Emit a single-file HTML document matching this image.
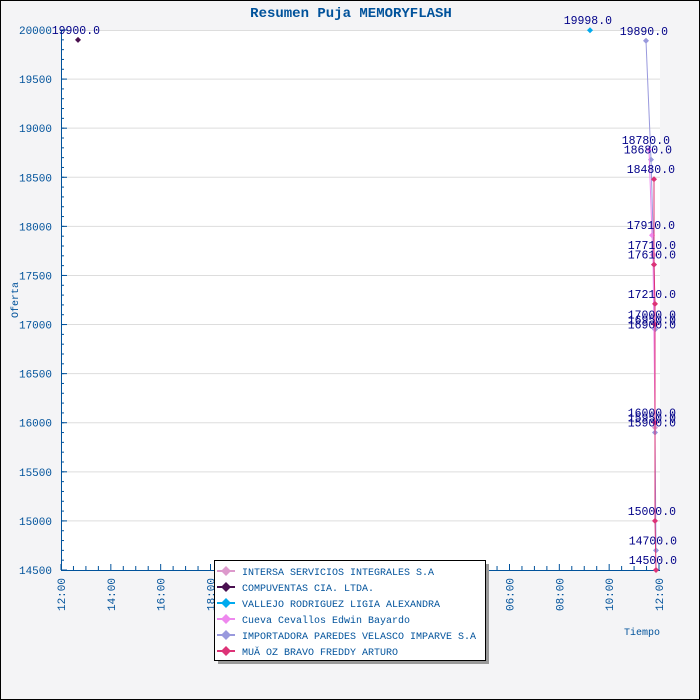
<!DOCTYPE html>
<html><head><meta charset="utf-8"><style>
html,body{margin:0;padding:0;background:#fff}
svg{display:block}
text{font-family:"Liberation Mono","DejaVu Sans Mono",monospace}
</style></head><body>
<svg id="s" width="700" height="700" xmlns="http://www.w3.org/2000/svg">
<rect x="0.5" y="0.5" width="699" height="699" fill="#f4f4f6" stroke="#000"/>
<rect x="61" y="30" width="599" height="540" fill="#fff"/>
<text x="351" y="17" text-anchor="middle" font-size="14" font-weight="bold" fill="#00529b">Resumen Puja MEMORYFLASH</text>
<g id="g"></g>
</svg>
<script>
var g=document.getElementById('g'),h='';
function Y(v){return 30+(20000-v)*540/5500;}
for(var v=14500;v<=20000;v+=500){var y=Y(v);
 if(v>14500&&v<20000)h+='<line x1="61" x2="660" y1="'+y+'" y2="'+y+'" stroke="#ddd"/>';
 if(v==20000)h+='<line x1="61" x2="660" y1="30.5" y2="30.5" stroke="#ddd"/>';
 h+='<line x1="61" x2="67" y1="'+y+'" y2="'+y+'" stroke="#00529b"/>';
 h+='<text x="52" y="'+(y+4)+'" text-anchor="end" font-size="11" fill="#00529b">'+v+'</text>';}
for(var v=14500;v<20000;v+=100){var y=Y(v);h+='<line x1="61" x2="64" y1="'+y+'" y2="'+y+'" stroke="#00529b"/>';}
h+='<line x1="61.5" x2="61.5" y1="30" y2="570" stroke="#00529b"/>';
h+='<line x1="61" x2="660" y1="570.5" y2="570.5" stroke="#00529b"/>';
var lab=['12:00','14:00','16:00','18:00','20:00','22:00','00:00','02:00','04:00','06:00','08:00','10:00','12:00'];
for(var i=0;i<=48;i++){var x=61+i*598/48;h+='<line x1="'+x+'" x2="'+x+'" y1="570" y2="'+(i%4==0?564:566)+'" stroke="#00529b"/>';}
for(var i=0;i<13;i++){var x=61+i*598/12+4;h+='<text transform="translate('+x+',578) rotate(-90)" text-anchor="end" font-size="11" fill="#00529b">'+lab[i]+'</text>';}
h+='<text transform="translate(18,300) rotate(-90)" text-anchor="middle" font-size="10" fill="#00529b">Oferta</text>';
h+='<text x="660" y="635" text-anchor="end" font-size="10" fill="#00529b">Tiempo</text>';
function pl(pts,c){h+='<polyline fill="none" stroke="'+c+'" points="'+pts.map(function(p){return p[0]+','+Y(p[1])}).join(' ')+'"/>';
 pts.forEach(function(p){h+=mk(p[0],Y(p[1]),c);});}
function mk(x,y,c){return '<path d="M'+x+' '+(y-3)+'L'+(x+3)+' '+y+'L'+x+' '+(y+3)+'L'+(x-3)+' '+y+'Z" fill="'+c+'"/>';}
pl([[646,19890],[651,18680],[654,17610],[655,16950],[655,15900],[656,14700]],'#9999dd');
pl([[649,18780],[652,17910],[653,17710],[655,16000]],'#ee88ee');
pl([[654,17710],[655,17000],[655,15950]],'#dd99cc');
pl([[654,18480],[654,17610],[655,17210],[655,17000],[655,16000],[655,15000],[656,14500]],'#dd3377');
h+=mk(78,Y(19900),'#4a1150');
h+=mk(590,Y(19998),'#00aaee');
var L=[[100,19900,'19900.0'],[612,19998,'19998.0'],[668,19890,'19890.0'],[670,18780,'18780.0'],[672,18680,'18680.0'],[675,18480,'18480.0'],[675,17910,'17910.0'],[676,17710,'17710.0'],[676,17610,'17610.0'],[676,17210,'17210.0'],[676,17000,'17000.0'],[676,16950,'16950.0'],[676,16900,'16900.0'],[676,16000,'16000.0'],[676,15950,'15950.0'],[676,15900,'15900.0'],[676,15000,'15000.0'],[677,14700,'14700.0'],[677,14500,'14500.0']];
L.forEach(function(l){h+='<text x="'+l[0]+'" y="'+(Y(l[1])-6)+'" text-anchor="end" font-size="11.5" fill="#000088">'+l[2]+'</text>';});
h+='<rect x="218" y="564" width="271" height="100" fill="#999"/>';
h+='<rect x="214.5" y="560.5" width="271" height="100" fill="#fff" stroke="#000"/>';
var lg=[['#dd99cc','INTERSA SERVICIOS INTEGRALES S.A'],['#4a1150','COMPUVENTAS CIA. LTDA.'],['#00aaee','VALLEJO RODRIGUEZ LIGIA ALEXANDRA'],['#ee88ee','Cueva Cevallos Edwin Bayardo'],['#9999dd','IMPORTADORA PAREDES VELASCO IMPARVE S.A'],['#dd3377','MUĂ OZ BRAVO FREDDY ARTURO']];
lg.forEach(function(e,i){var y=571+i*16;h+='<line x1="217" x2="235" y1="'+y+'" y2="'+y+'" stroke="'+e[0]+'" stroke-width="2"/>'+'<path d="M226 '+(y-5)+'L231 '+y+'L226 '+(y+5)+'L221 '+y+'Z" fill="'+e[0]+'"/>'+'<text x="242" y="'+(y+4)+'" font-size="10" fill="#00529b">'+e[1]+'</text>';});
g.innerHTML=h;
</script>
</body></html>
